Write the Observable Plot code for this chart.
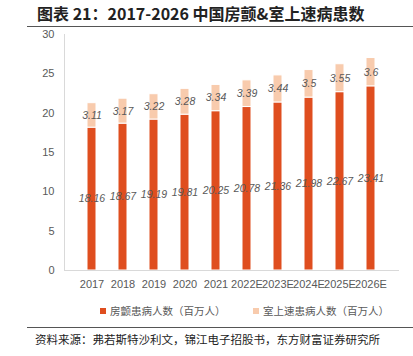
<!DOCTYPE html>
<html><head><meta charset="utf-8">
<script src="https://cdn.jsdelivr.net/npm/d3@7"></script>
<script src="https://cdn.jsdelivr.net/npm/@observablehq/plot@0.6"></script>
<style>
body{margin:0;background:#fff;width:413px;height:356px;overflow:hidden;font-family:"Noto Sans CJK SC","Noto Sans",sans-serif;}
#title{position:absolute;left:27px;top:0;width:386px;height:26px;border-bottom:1.5px solid #555;}
#title span{position:absolute;left:10px;top:1px;font-size:16px;font-weight:bold;color:#222;white-space:nowrap;}
#chart{position:absolute;left:0;top:30px;}
#chart svg{overflow:visible;}
#legend{position:absolute;top:303px;left:0;width:413px;height:18px;font-size:10.5px;color:#595959;}
.li{position:absolute;top:0;white-space:nowrap;}
.sw{display:inline-block;width:6px;height:6px;margin-right:4px;vertical-align:1px;}
#footer{position:absolute;left:27px;top:327px;width:386px;border-top:1.5px solid #555;}
#footer span{position:absolute;left:8px;top:3px;font-size:11.5px;color:#222;white-space:nowrap;}
</style></head>
<body>
<div id="title"><span>图表 21：2017-2026 中国房颤&amp;室上速病患数</span></div>
<div id="chart"></div>
<div id="legend"></div>
<div id="footer"><span>资料来源：弗若斯特沙利文，锦江电子招股书，东方财富证券研究所</span></div>
<script>
const years = ["2017","2018","2019","2020","2021","2022E","2023E","2024E","2025E","2026E"];
const afib = [18.16, 18.67, 19.19, 19.81, 20.25, 20.78, 21.36, 21.98, 22.67, 23.41];
const svt = [3.11, 3.17, 3.22, 3.28, 3.34, 3.39, 3.44, 3.5, 3.55, 3.6];
const seriesNames = ["房颤患病人数（百万人）", "室上速患病人数（百万人）"];
const colors = ["#DF4E1F", "#F8CBAD"];
const yTicks = [0, 5, 10, 15, 20, 25, 30];

const rows = [];
years.forEach((y, i) => rows.push({year: y, series: seriesNames[0], value: afib[i]}));
years.forEach((y, i) => rows.push({year: y, series: seriesNames[1], value: svt[i]}));

const chart = Plot.plot({
  width: 413,
  height: 270,
  marginTop: 4,
  marginBottom: 30,
  marginLeft: 64,
  marginRight: 14,
  style: {fontFamily: "'Liberation Sans', sans-serif", fontSize: "11px", color: "#595959", background: "transparent", overflow: "visible"},
  x: {domain: years, padding: 0.7, label: null, tickSize: 0, tickPadding: 10},
  y: {domain: [0, 30], ticks: yTicks, label: null, tickSize: 0, tickPadding: 10},
  color: {domain: seriesNames, range: colors},
  marks: [
    Plot.barY(rows, {x: "year", y: "value", z: "series", fill: "series", stroke: "#fff", strokeWidth: 1}),
    Plot.ruleY([0], {stroke: "#d9d9d9", strokeWidth: 1.2}),
    Plot.text(rows, Plot.stackY({x: "year", y: "value", z: "series", text: d => String(d.value), fill: "#595959", fontStyle: "italic", fontSize: 10.5, fontFamily: "'Liberation Sans', sans-serif"}))
  ]
});
d3.select(chart).append("line")
  .attr("x1", 64.5).attr("x2", 64.5).attr("y1", 4).attr("y2", 240)
  .attr("stroke", "#d9d9d9").attr("stroke-width", 1);
document.getElementById("chart").appendChild(chart);

const leg = document.getElementById("legend");
const pos = [100, 253];
seriesNames.forEach((s, i) => {
  const d = document.createElement("div");
  d.className = "li";
  d.style.left = pos[i] + "px";
  d.innerHTML = `<span class="sw" style="background:${colors[i]}"></span>${s}`;
  leg.appendChild(d);
});
</script>
</body></html>
